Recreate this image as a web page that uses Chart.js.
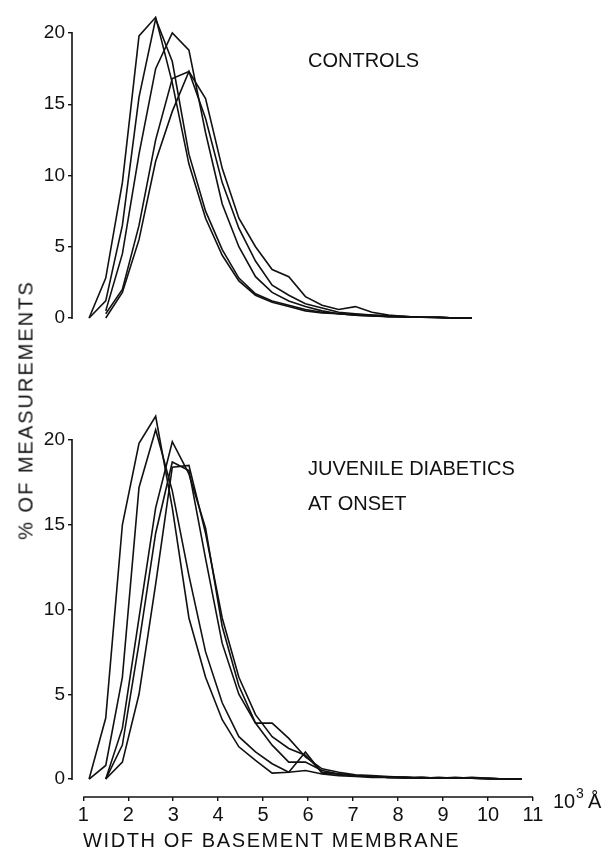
<!DOCTYPE html>
<html>
<head>
<meta charset="utf-8">
<script src="https://cdn.jsdelivr.net/npm/chart.js"></script>
<style>
  body { margin: 0; background: #fff; }
  #wrap { position: relative; width: 611px; height: 851px; }
  canvas { position: absolute; left: 0; }
  #top { top: 0; }
  #bot { top: 400px; }
  #ytitle {
    position: absolute; left: 26px; top: 410px;
    transform: translate(-50%, -50%) rotate(-90deg);
    font: 20px "Liberation Sans", Arial, sans-serif; letter-spacing: 2px;
    color: #111; white-space: nowrap;
  }
</style>
</head>
<body>
<div id="wrap">
  <canvas id="top" width="611" height="400"></canvas>
  <canvas id="bot" width="611" height="451"></canvas>
  <div id="ytitle">% OF MEASUREMENTS</div>
</div>
<script>
// bin centres, 10^3 Å
const widths = [1.13, 1.5, 1.87, 2.24, 2.61, 2.98, 3.35, 3.72, 4.09, 4.46, 4.83, 5.2, 5.57,
  5.94, 6.31, 6.68, 7.05, 7.42, 7.79, 8.16, 8.53, 8.9, 9.27, 9.64, 10.01, 10.38, 10.75];
const xTicks = [1, 2, 3, 4, 5, 6, 7, 8, 9, 10, 11];
const yTicks = [0, 5, 10, 15, 20];

// controls (% of measurements)
const ctrl1 = [0, 2.8, 9.5, 19.8, 21.1, 16.5, 10.8, 7.0, 4.4, 2.6, 1.6, 1.1, 0.8, 0.5, 0.35, 0.3, 0.2, 0.15, 0.1, 0.1, 0.05, 0.05, 0, 0];
const ctrl2 = [0, 1.2, 6.5, 15.5, 21.0, 18.0, 11.5, 7.5, 4.8, 2.8, 1.7, 1.2, 0.9, 0.6, 0.4, 0.3, 0.25, 0.2, 0.1, 0.1, 0.05, 0.05, 0, 0];
const ctrl3 = [null, 0.5, 4.5, 11.5, 17.5, 20.0, 18.8, 13.0, 8.0, 5.0, 2.9, 1.8, 1.2, 0.8, 0.5, 0.3, 0.2, 0.15, 0.1, 0.05, 0.05, 0, 0, 0];
const ctrl4 = [null, 0.3, 2.0, 6.5, 12.5, 16.8, 17.3, 15.4, 10.5, 7.0, 5.0, 3.4, 2.9, 1.5, 0.9, 0.6, 0.8, 0.4, 0.2, 0.1, 0.05, 0.05, 0, 0];
const ctrl5 = [null, 0, 1.8, 5.5, 11.0, 14.5, 17.3, 14.0, 9.5, 6.3, 4.0, 2.3, 1.6, 1.0, 0.7, 0.4, 0.3, 0.2, 0.15, 0.1, 0.05, 0.05, 0, 0];

// juvenile diabetics at onset
const diab1 = [0, 3.6, 15.0, 19.8, 21.4, 16.0, 9.5, 6.0, 3.5, 1.9, 1.1, 0.35, 0.4, 0.5, 0.3, 0.2, 0.15, 0.1, 0.1, 0.05, 0.1, 0.05, 0.05, 0.05, 0, 0, 0];
const diab2 = [0, 0.8, 6.0, 17.2, 20.6, 17.0, 12.0, 7.5, 4.5, 2.5, 1.6, 0.9, 0.4, 1.6, 0.35, 0.3, 0.2, 0.15, 0.1, 0.1, 0.05, 0.1, 0.05, 0.05, 0.05, 0, 0];
const diab3 = [null, 0, 3.0, 9.5, 16.0, 19.9, 18.0, 14.8, 9.0, 5.5, 3.3, 2.0, 1.0, 1.0, 0.5, 0.3, 0.2, 0.15, 0.1, 0.1, 0.05, 0.05, 0.05, 0.1, 0.05, 0, 0];
const diab4 = [null, 0, 2.0, 8.0, 14.5, 18.7, 18.2, 13.0, 8.0, 5.0, 3.3, 3.3, 2.4, 1.3, 0.6, 0.4, 0.25, 0.2, 0.15, 0.1, 0.1, 0.05, 0.05, 0.05, 0, 0, 0];
const diab5 = [null, 0, 1.0, 5.0, 11.5, 18.4, 18.5, 14.5, 9.5, 6.0, 3.8, 2.5, 1.8, 1.4, 0.4, 0.3, 0.2, 0.15, 0.1, 0.1, 0.05, 0.05, 0.1, 0.05, 0.05, 0, 0];

const ink = '#111';
const font = '"Liberation Sans", Arial, sans-serif';

function series(vals) {
  return {
    data: widths.map((w, i) => ({ x: w, y: vals[i] })).filter(p => p.y != null),
    borderColor: ink, borderWidth: 1.6, pointRadius: 0, tension: 0, fill: false, clip: false
  };
}

const decor = {
  id: 'decor',
  afterDraw(chart, args, opts) {
    const { ctx, scales: { x, y } } = chart;
    ctx.save();
    ctx.strokeStyle = ink;
    ctx.lineWidth = 1.6;
    ctx.beginPath();
    ctx.moveTo(x.left, y.getPixelForValue(20) - 1);
    ctx.lineTo(x.left, y.getPixelForValue(0) + 1);
    ctx.stroke();
    if (opts.xLine) {
      ctx.beginPath();
      ctx.moveTo(x.getPixelForValue(1), y.bottom);
      ctx.lineTo(x.getPixelForValue(11), y.bottom);
      ctx.stroke();
    }
    ctx.fillStyle = ink;
    ctx.textBaseline = 'alphabetic';
    (opts.texts || []).forEach(t => {
      ctx.font = (t.size || 20) + 'px ' + font;
      ctx.letterSpacing = (t.ls || 0) + 'px';
      ctx.fillText(t.s, t.x, t.y);
    });
    ctx.restore();
  }
};

function makeChart(id, data, o) {
  return new Chart(document.getElementById(id), {
    type: 'line',
    data: { datasets: data.map(series) },
    plugins: [decor],
    options: {
      responsive: false, animation: false,
      layout: { padding: o.padding },
      plugins: { legend: { display: false }, tooltip: { enabled: false }, decor: o.decor },
      scales: {
        x: {
          type: 'linear', min: 0.75, max: 11, display: o.showX,
          afterBuildTicks: s => { s.ticks = xTicks.map(v => ({ value: v })); },
          afterFit: s => { s.height = 54; },
          border: { display: false },
          grid: { drawOnChartArea: false, color: ink, tickLength: 4, lineWidth: 1.4 },
          ticks: { color: ink, font: { family: font, size: 20 }, padding: 2, maxRotation: 0 }
        },
        y: {
          min: o.yMin, max: 20,
          afterBuildTicks: s => { s.ticks = yTicks.map(v => ({ value: v })); },
          afterFit: s => { s.width = 72; },
          border: { display: false },
          grid: { drawOnChartArea: false, color: ink, tickLength: 4, lineWidth: 1.4 },
          ticks: { color: ink, font: { family: font, size: 19 }, padding: 3 }
        }
      }
    }
  });
}

makeChart('top', [ctrl1, ctrl2, ctrl3, ctrl4, ctrl5], {
  padding: { left: 0, top: 33, right: 78, bottom: 28 },
  yMin: 0, showX: false,
  decor: { xLine: false, texts: [{ s: 'CONTROLS', x: 308, y: 67 }] }
});

makeChart('bot', [diab1, diab2, diab3, diab4, diab5], {
  padding: { left: 0, top: 40, right: 78, bottom: 0 },
  yMin: -1.06, showX: true,
  decor: {
    xLine: true,
    texts: [
      { s: 'JUVENILE DIABETICS', x: 308, y: 75 },
      { s: 'AT ONSET', x: 308, y: 110 },
      { s: 'WIDTH OF BASEMENT MEMBRANE', x: 83, y: 447, ls: 1.6 },
      { s: '10', x: 553, y: 408 },
      { s: '3', x: 576, y: 398, size: 14 },
      { s: 'Å', x: 588, y: 408 }
    ]
  }
});
</script>
</body>
</html>
